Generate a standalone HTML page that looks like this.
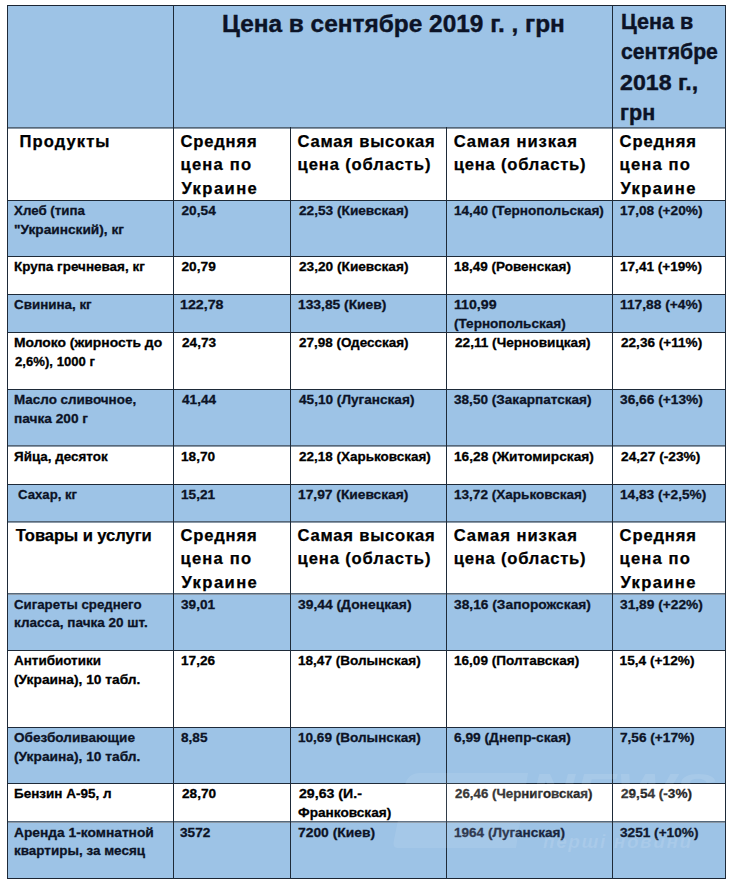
<!DOCTYPE html>
<html><head><meta charset="utf-8"><style>
html,body{margin:0;padding:0;background:#fff;}
body{width:729px;height:882px;position:relative;overflow:hidden;font-family:"Liberation Sans",sans-serif;font-weight:bold;color:#000;}
.b{position:absolute;left:7px;width:719px;background:#9dc3e6;}
.h{position:absolute;left:7px;width:719px;height:1px;}
.v{position:absolute;width:1px;background:#1e2a38;}
.t{position:absolute;white-space:pre;transform-origin:0 0;}
.on{color:#0c1326;}
.k-body{-webkit-text-stroke:0.3px currentColor;}
.k-head{-webkit-text-stroke:0.25px currentColor;}
.k-title{-webkit-text-stroke:0.4px currentColor;}
.k-rh{-webkit-text-stroke:0.4px currentColor;}
</style></head><body>
<div class="b" style="top:5px;height:122px"></div>
<div class="b" style="top:200px;height:56px"></div>
<div class="b" style="top:294px;height:38px"></div>
<div class="b" style="top:389px;height:57px"></div>
<div class="b" style="top:484px;height:38px"></div>
<div class="b" style="top:594px;height:56px"></div>
<div class="b" style="top:727px;height:56px"></div>
<div class="b" style="top:822px;height:56px"></div>
<div class="t k-body on" style="top:202.39px;font-size:13.70px;line-height:17.12px;left:14.03px;transform:scaleX(0.9722);">Хлеб (типа</div>
<div class="t k-body on" style="top:220.59px;font-size:13.70px;line-height:17.12px;left:14.00px;transform:scaleX(1.0000);">"Украинский), кг</div>
<div class="t k-body on" style="top:202.39px;font-size:13.70px;line-height:17.12px;left:181.50px;transform:scaleX(1.0000);">20,54</div>
<div class="t k-body on" style="top:202.39px;font-size:13.70px;line-height:17.12px;left:298.60px;transform:scaleX(0.9982);">22,53 (Киевская)</div>
<div class="t k-body on" style="top:202.39px;font-size:13.70px;line-height:17.12px;left:453.71px;transform:scaleX(0.9933);">14,40 (Тернопольская)</div>
<div class="t k-body on" style="top:202.39px;font-size:13.70px;line-height:17.12px;left:619.60px;transform:scaleX(0.9988);">17,08 (+20%)</div>
<div class="t k-body" style="top:258.39px;font-size:13.70px;line-height:17.12px;left:14.02px;transform:scaleX(0.9833);">Крупа гречневая, кг</div>
<div class="t k-body" style="top:258.39px;font-size:13.70px;line-height:17.12px;left:181.50px;transform:scaleX(1.0000);">20,79</div>
<div class="t k-body" style="top:258.39px;font-size:13.70px;line-height:17.12px;left:298.60px;transform:scaleX(0.9982);">23,20 (Киевская)</div>
<div class="t k-body" style="top:258.39px;font-size:13.70px;line-height:17.12px;left:453.71px;transform:scaleX(0.9863);">18,49 (Ровенская)</div>
<div class="t k-body" style="top:258.39px;font-size:13.70px;line-height:17.12px;left:619.61px;transform:scaleX(0.9926);">17,41 (+19%)</div>
<div class="t k-body on" style="top:296.39px;font-size:13.70px;line-height:17.12px;left:14.02px;transform:scaleX(0.9782);">Свинина, кг</div>
<div class="t k-body on" style="top:296.39px;font-size:13.70px;line-height:17.12px;left:180.46px;transform:scaleX(1.0400);">122,78</div>
<div class="t k-body on" style="top:296.39px;font-size:13.70px;line-height:17.12px;left:297.59px;transform:scaleX(1.0093);">133,85 (Киев)</div>
<div class="t k-body on" style="top:296.39px;font-size:13.70px;line-height:17.12px;left:453.66px;transform:scaleX(1.0350);">110,99</div>
<div class="t k-body on" style="top:314.59px;font-size:13.70px;line-height:17.12px;left:453.71px;transform:scaleX(0.9892);">(Тернопольская)</div>
<div class="t k-body on" style="top:296.39px;font-size:13.70px;line-height:17.12px;left:619.60px;transform:scaleX(1.0050);">117,88 (+4%)</div>
<div class="t k-body" style="top:334.39px;font-size:13.70px;line-height:17.12px;left:13.99px;transform:scaleX(1.0131);">Молоко (жирность до</div>
<div class="t k-body" style="top:352.59px;font-size:13.70px;line-height:17.12px;left:15.00px;transform:scaleX(0.9602);">2,6%), 1000 г</div>
<div class="t k-body" style="top:334.39px;font-size:13.70px;line-height:17.12px;left:181.50px;transform:scaleX(0.9953);">24,73</div>
<div class="t k-body" style="top:334.39px;font-size:13.70px;line-height:17.12px;left:298.60px;transform:scaleX(0.9847);">27,98 (Одесская)</div>
<div class="t k-body" style="top:334.39px;font-size:13.70px;line-height:17.12px;left:454.70px;transform:scaleX(0.9949);">22,11 (Черновицкая)</div>
<div class="t k-body" style="top:334.39px;font-size:13.70px;line-height:17.12px;left:620.60px;transform:scaleX(0.9926);">22,36 (+11%)</div>
<div class="t k-body on" style="top:391.39px;font-size:13.70px;line-height:17.12px;left:14.02px;transform:scaleX(0.9813);">Масло сливочное,</div>
<div class="t k-body on" style="top:409.59px;font-size:13.70px;line-height:17.12px;left:14.00px;transform:scaleX(0.9986);">пачка 200 г</div>
<div class="t k-body on" style="top:391.39px;font-size:13.70px;line-height:17.12px;left:181.50px;transform:scaleX(0.9953);">41,44</div>
<div class="t k-body on" style="top:391.39px;font-size:13.70px;line-height:17.12px;left:298.60px;transform:scaleX(0.9948);">45,10 (Луганская)</div>
<div class="t k-body on" style="top:391.39px;font-size:13.70px;line-height:17.12px;left:453.71px;transform:scaleX(0.9920);">38,50 (Закарпатская)</div>
<div class="t k-body on" style="top:391.39px;font-size:13.70px;line-height:17.12px;left:619.60px;transform:scaleX(1.0037);">36,66 (+13%)</div>
<div class="t k-body" style="top:447.89px;font-size:13.70px;line-height:17.12px;left:14.02px;transform:scaleX(0.9809);">Яйца, десяток</div>
<div class="t k-body" style="top:447.89px;font-size:13.70px;line-height:17.12px;left:180.50px;transform:scaleX(0.9953);">18,70</div>
<div class="t k-body" style="top:447.89px;font-size:13.70px;line-height:17.12px;left:298.60px;transform:scaleX(0.9842);">22,18 (Харьковская)</div>
<div class="t k-body" style="top:447.89px;font-size:13.70px;line-height:17.12px;left:453.70px;transform:scaleX(1.0014);">16,28 (Житомирская)</div>
<div class="t k-body" style="top:447.89px;font-size:13.70px;line-height:17.12px;left:620.60px;transform:scaleX(1.0026);">24,27 (-23%)</div>
<div class="t k-body on" style="top:486.39px;font-size:13.70px;line-height:17.12px;left:17.84px;transform:scaleX(0.9617);">Сахар, кг</div>
<div class="t k-body on" style="top:486.39px;font-size:13.70px;line-height:17.12px;left:180.50px;transform:scaleX(0.9953);">15,21</div>
<div class="t k-body on" style="top:486.39px;font-size:13.70px;line-height:17.12px;left:297.59px;transform:scaleX(1.0065);">17,97 (Киевская)</div>
<div class="t k-body on" style="top:486.39px;font-size:13.70px;line-height:17.12px;left:453.71px;transform:scaleX(0.9902);">13,72 (Харьковская)</div>
<div class="t k-body on" style="top:486.39px;font-size:13.70px;line-height:17.12px;left:619.60px;transform:scaleX(0.9988);">14,83 (+2,5%)</div>
<div class="t k-body on" style="top:595.89px;font-size:13.70px;line-height:17.12px;left:14.03px;transform:scaleX(0.9685);">Сигареты среднего</div>
<div class="t k-body on" style="top:614.09px;font-size:13.70px;line-height:17.12px;left:14.01px;transform:scaleX(0.9880);">класса, пачка 20 шт.</div>
<div class="t k-body on" style="top:595.89px;font-size:13.70px;line-height:17.12px;left:180.50px;transform:scaleX(0.9953);">39,01</div>
<div class="t k-body on" style="top:595.89px;font-size:13.70px;line-height:17.12px;left:297.59px;transform:scaleX(1.0117);">39,44 (Донецкая)</div>
<div class="t k-body on" style="top:595.89px;font-size:13.70px;line-height:17.12px;left:453.69px;transform:scaleX(1.0060);">38,16 (Запорожская)</div>
<div class="t k-body on" style="top:595.89px;font-size:13.70px;line-height:17.12px;left:619.60px;transform:scaleX(1.0037);">31,89 (+22%)</div>
<div class="t k-body" style="top:652.39px;font-size:13.70px;line-height:17.12px;left:14.02px;transform:scaleX(0.9816);">Антибиотики</div>
<div class="t k-body" style="top:670.59px;font-size:13.70px;line-height:17.12px;left:14.00px;transform:scaleX(1.0048);">(Украина), 10 табл.</div>
<div class="t k-body" style="top:652.39px;font-size:13.70px;line-height:17.12px;left:180.50px;transform:scaleX(0.9953);">17,26</div>
<div class="t k-body" style="top:652.39px;font-size:13.70px;line-height:17.12px;left:297.61px;transform:scaleX(0.9910);">18,47 (Волынская)</div>
<div class="t k-body" style="top:652.39px;font-size:13.70px;line-height:17.12px;left:453.71px;transform:scaleX(0.9919);">16,09 (Полтавская)</div>
<div class="t k-body" style="top:652.39px;font-size:13.70px;line-height:17.12px;left:619.60px;transform:scaleX(1.0000);">15,4 (+12%)</div>
<div class="t k-body on" style="top:729.39px;font-size:13.70px;line-height:17.12px;left:14.01px;transform:scaleX(0.9925);">Обезболивающие</div>
<div class="t k-body on" style="top:747.59px;font-size:13.70px;line-height:17.12px;left:14.00px;transform:scaleX(1.0048);">(Украина), 10 табл.</div>
<div class="t k-body on" style="top:729.39px;font-size:13.70px;line-height:17.12px;left:181.00px;transform:scaleX(0.9953);">8,85</div>
<div class="t k-body on" style="top:729.39px;font-size:13.70px;line-height:17.12px;left:297.61px;transform:scaleX(0.9910);">10,69 (Волынская)</div>
<div class="t k-body on" style="top:729.39px;font-size:13.70px;line-height:17.12px;left:453.70px;transform:scaleX(1.0035);">6,99 (Днепр-ская)</div>
<div class="t k-body on" style="top:729.39px;font-size:13.70px;line-height:17.12px;left:619.60px;transform:scaleX(0.9959);">7,56 (+17%)</div>
<div class="t k-body" style="top:785.39px;font-size:13.70px;line-height:17.12px;left:14.01px;transform:scaleX(0.9856);">Бензин А-95, л</div>
<div class="t k-body" style="top:785.39px;font-size:13.70px;line-height:17.12px;left:181.50px;transform:scaleX(0.9953);">28,70</div>
<div class="t k-body" style="top:785.39px;font-size:13.70px;line-height:17.12px;left:298.60px;transform:scaleX(1.0333);">29,63 (И.-</div>
<div class="t k-body" style="top:803.59px;font-size:13.70px;line-height:17.12px;left:297.60px;transform:scaleX(0.9957);">Франковская)</div>
<div class="t k-body" style="top:785.39px;font-size:13.70px;line-height:17.12px;left:454.70px;transform:scaleX(0.9723);color:#262626;">26,46 (Черниговская)</div>
<div class="t k-body" style="top:785.39px;font-size:13.70px;line-height:17.12px;left:620.60px;transform:scaleX(0.9930);color:#262626;">29,54 (-3%)</div>
<div class="t k-body on" style="top:823.89px;font-size:13.70px;line-height:17.12px;left:13.99px;transform:scaleX(1.0058);">Аренда 1-комнатной</div>
<div class="t k-body on" style="top:842.09px;font-size:13.70px;line-height:17.12px;left:14.02px;transform:scaleX(0.9833);">квартиры, за месяц</div>
<div class="t k-body on" style="top:823.89px;font-size:13.70px;line-height:17.12px;left:180.00px;transform:scaleX(0.9953);">3572</div>
<div class="t k-body on" style="top:823.89px;font-size:13.70px;line-height:17.12px;left:297.59px;transform:scaleX(1.0122);">7200 (Киев)</div>
<div class="t k-body on" style="top:823.89px;font-size:13.70px;line-height:17.12px;left:453.71px;transform:scaleX(0.9892);color:#1a2740;">1964 (Луганская)</div>
<div class="t k-body on" style="top:823.89px;font-size:13.70px;line-height:17.12px;left:619.60px;transform:scaleX(0.9961);color:#111a30;">3251 (+10%)</div>
<div class="t k-head" style="top:131.67px;font-size:16.60px;line-height:20.75px;left:19.60px;letter-spacing:1.057px;">Продукты</div>
<div class="t k-head" style="top:131.67px;font-size:16.60px;line-height:20.75px;left:180.50px;letter-spacing:0.800px;">Средняя</div>
<div class="t k-head" style="top:155.47px;font-size:16.60px;line-height:20.75px;left:180.50px;letter-spacing:1.200px;">цена по</div>
<div class="t k-head" style="top:179.27px;font-size:16.60px;line-height:20.75px;left:181.50px;letter-spacing:1.417px;">Украине</div>
<div class="t k-head" style="top:131.67px;font-size:16.60px;line-height:20.75px;left:297.60px;letter-spacing:0.767px;">Самая высокая</div>
<div class="t k-head" style="top:155.47px;font-size:16.60px;line-height:20.75px;left:297.60px;letter-spacing:0.862px;">цена (область)</div>
<div class="t k-head" style="top:131.67px;font-size:16.60px;line-height:20.75px;left:453.70px;letter-spacing:0.964px;">Самая низкая</div>
<div class="t k-head" style="top:155.47px;font-size:16.60px;line-height:20.75px;left:453.70px;letter-spacing:0.792px;">цена (область)</div>
<div class="t k-head" style="top:131.67px;font-size:16.60px;line-height:20.75px;left:619.60px;letter-spacing:0.833px;">Средняя</div>
<div class="t k-head" style="top:155.47px;font-size:16.60px;line-height:20.75px;left:619.60px;letter-spacing:1.133px;">цена по</div>
<div class="t k-head" style="top:179.27px;font-size:16.60px;line-height:20.75px;left:620.60px;letter-spacing:1.333px;">Украине</div>
<div class="t k-head" style="top:525.67px;font-size:16.60px;line-height:20.75px;left:15.80px;letter-spacing:-0.071px;">Товары и услуги</div>
<div class="t k-head" style="top:525.67px;font-size:16.60px;line-height:20.75px;left:180.50px;letter-spacing:0.800px;">Средняя</div>
<div class="t k-head" style="top:549.47px;font-size:16.60px;line-height:20.75px;left:180.50px;letter-spacing:1.200px;">цена по</div>
<div class="t k-head" style="top:573.27px;font-size:16.60px;line-height:20.75px;left:181.50px;letter-spacing:1.417px;">Украине</div>
<div class="t k-head" style="top:525.67px;font-size:16.60px;line-height:20.75px;left:297.60px;letter-spacing:0.767px;">Самая высокая</div>
<div class="t k-head" style="top:549.47px;font-size:16.60px;line-height:20.75px;left:297.60px;letter-spacing:0.862px;">цена (область)</div>
<div class="t k-head" style="top:525.67px;font-size:16.60px;line-height:20.75px;left:453.70px;letter-spacing:0.964px;">Самая низкая</div>
<div class="t k-head" style="top:549.47px;font-size:16.60px;line-height:20.75px;left:453.70px;letter-spacing:0.792px;">цена (область)</div>
<div class="t k-head" style="top:525.67px;font-size:16.60px;line-height:20.75px;left:619.60px;letter-spacing:0.833px;">Средняя</div>
<div class="t k-head" style="top:549.47px;font-size:16.60px;line-height:20.75px;left:619.60px;letter-spacing:1.133px;">цена по</div>
<div class="t k-head" style="top:573.27px;font-size:16.60px;line-height:20.75px;left:620.60px;letter-spacing:1.333px;">Украине</div>
<div class="t k-title on" style="top:8.70px;font-size:24.60px;line-height:30.75px;left:221.51px;transform:scaleX(0.9927);">Цена в сентябре 2019 г. , грн</div>
<div class="t k-rh on" style="top:8.22px;font-size:21.80px;line-height:27.25px;left:620.51px;transform:scaleX(0.9887);">Цена в</div>
<div class="t k-rh on" style="top:38.42px;font-size:21.80px;line-height:27.25px;left:620.53px;transform:scaleX(0.9714);">сентябре</div>
<div class="t k-rh on" style="top:68.62px;font-size:21.80px;line-height:27.25px;left:620.44px;transform:scaleX(1.0634);">2018 г.,</div>
<div class="t k-rh on" style="top:98.82px;font-size:21.80px;line-height:27.25px;left:619.52px;transform:scaleX(0.9887);">грн</div>
<div class="h" style="top:5px;height:1px;background:#1b2533"></div>
<div class="h" style="top:127px;height:1px;background:#56687a"></div>
<div class="h" style="top:128px;height:1px;background:#8a98a6"></div>
<div class="h" style="top:200px;height:1px;background:#1e2a38"></div>
<div class="h" style="top:256px;height:1px;background:#1e2a38"></div>
<div class="h" style="top:294px;height:1px;background:#1e2a38"></div>
<div class="h" style="top:332px;height:1px;background:#1e2a38"></div>
<div class="h" style="top:389px;height:1px;background:#1e2a38"></div>
<div class="h" style="top:445px;height:1px;background:#56687a"></div>
<div class="h" style="top:446px;height:1px;background:#8a98a6"></div>
<div class="h" style="top:484px;height:1px;background:#1e2a38"></div>
<div class="h" style="top:521px;height:1px;background:#56687a"></div>
<div class="h" style="top:522px;height:1px;background:#8a98a6"></div>
<div class="h" style="top:593px;height:1px;background:#56687a"></div>
<div class="h" style="top:594px;height:1px;background:#8a98a6"></div>
<div class="h" style="top:650px;height:1px;background:#1e2a38"></div>
<div class="h" style="top:727px;height:1px;background:#1e2a38"></div>
<div class="h" style="top:783px;height:1px;background:#1e2a38"></div>
<div class="h" style="top:821px;height:1px;background:#56687a"></div>
<div class="h" style="top:822px;height:1px;background:#8a98a6"></div>
<div class="h" style="top:878px;height:1px;background:#1b2533"></div>
<div class="v" style="left:7px;top:5px;height:874px"></div>
<div class="v" style="left:725px;top:5px;height:874px"></div>
<div class="v" style="left:173px;top:5px;height:874px"></div>
<div class="v" style="left:612px;top:5px;height:874px"></div>
<div class="v" style="left:290px;top:127px;height:752px"></div>
<div class="v" style="left:446px;top:127px;height:752px"></div>
<svg style="position:absolute;left:0;top:0" width="729" height="882" viewBox="0 0 729 882"><g fill="#fff"><path d="M420 773 H528 L516 848 H398 Q392 848 394 840 L405 785 Q408 773 420 773 Z" fill-opacity="0.09"/><text x="0" y="0" transform="translate(530 806) scale(1.35 1)" font-family="Liberation Sans" font-weight="bold" font-style="italic" font-size="46" fill-opacity="0.10">NEWS</text><text x="0" y="0" transform="translate(543 848)" font-family="Liberation Sans" font-style="italic" font-size="19" letter-spacing="1.6" fill-opacity="0.12">перші новини</text></g></svg>
</body></html>
